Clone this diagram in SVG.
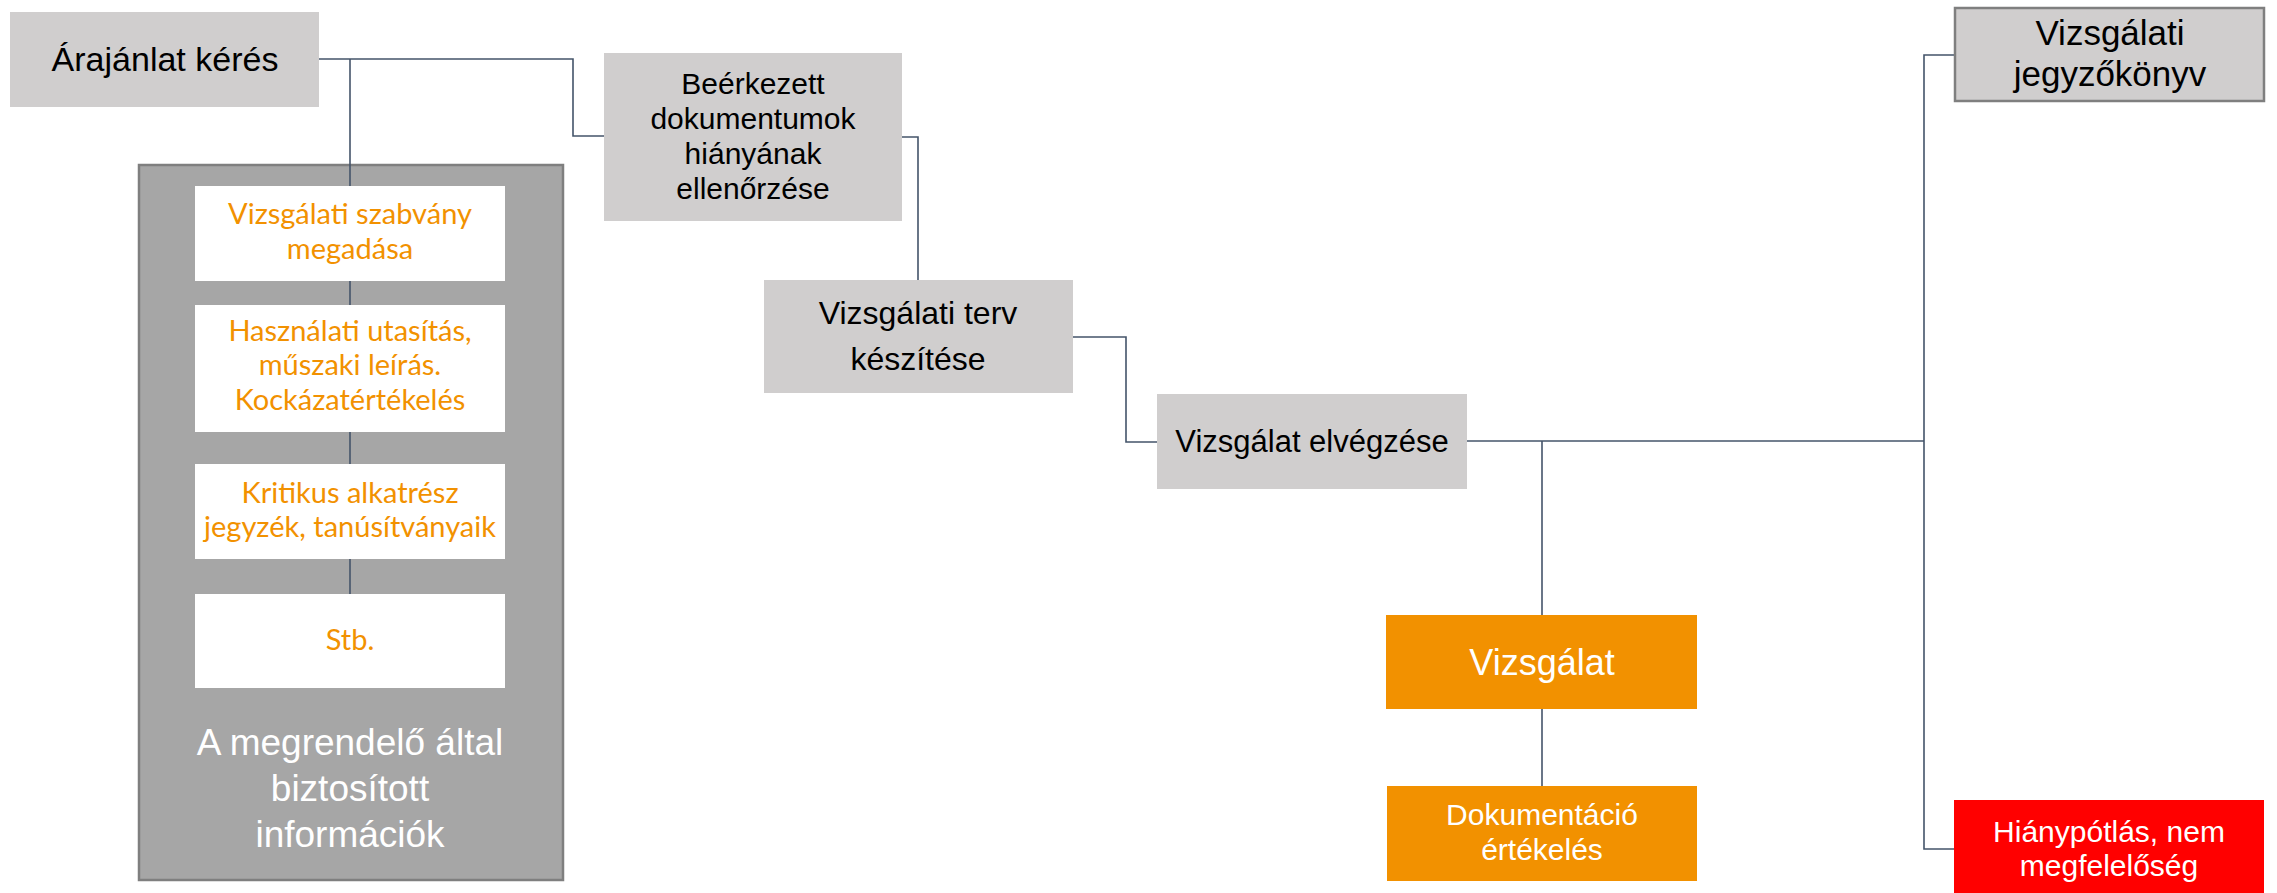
<svg xmlns="http://www.w3.org/2000/svg" width="2277" height="893" viewBox="0 0 2277 893">
<style>
.gbox{fill:#d0cece}
.wbox{fill:#ffffff}
.obox{fill:#f29100}
.conn{fill:none;stroke:#44546a;stroke-width:1.6}
.blk{font-family:"Liberation Sans",Arial,sans-serif;fill:#000;text-anchor:middle}
.wht{font-family:"Liberation Sans",Arial,sans-serif;fill:#fff;text-anchor:middle}
.org{font-family:Lato,"Open Sans",sans-serif;fill:#f29100;text-anchor:middle;font-size:29px}
</style>
<rect width="2277" height="893" fill="#fff"/>
<g id="container">
<rect x="139" y="165" width="424" height="715" fill="#a6a6a6" stroke="#7f7f7f" stroke-width="2.5"/>
<text class="wht" font-size="37"><tspan x="350" y="755">A megrendelő által</tspan><tspan x="350" y="801">biztosított</tspan><tspan x="350" y="847">információk</tspan></text>
</g>
<g id="connectors">
<path class="conn" d="M319 59 H573 V136 H604"/>
<path class="conn" d="M350 59 V594"/>
<path class="conn" d="M902 137 H918 V280"/>
<path class="conn" d="M1073 337 H1126 V442 H1157"/>
<path class="conn" d="M1467 441 H1924"/>
<path class="conn" d="M1954 55 H1924 V849 H1954"/>
<path class="conn" d="M1542 441 V615"/>
<path class="conn" d="M1542 709 V786"/>
</g>
<g id="arajanlat">
<rect class="gbox" x="10" y="12" width="309" height="95"/>
<text class="blk" x="165" y="71" font-size="34">Árajánlat kérés</text>
</g>
<g id="info1">
<rect class="wbox" x="195" y="186" width="310" height="95"/>
<text class="org"><tspan x="350" y="224">Vizsgálati szabvány</tspan><tspan x="350" y="259">megadása</tspan></text>
</g>
<g id="info2">
<rect class="wbox" x="195" y="305" width="310" height="127"/>
<text class="org"><tspan x="350" y="341">Használati utasítás,</tspan><tspan x="350" y="375">műszaki leírás.</tspan><tspan x="350" y="410">Kockázatértékelés</tspan></text>
</g>
<g id="info3">
<rect class="wbox" x="195" y="464" width="310" height="95"/>
<text class="org"><tspan x="350" y="503">Kritikus alkatrész</tspan><tspan x="350" y="537">jegyzék, tanúsítványaik</tspan></text>
</g>
<g id="info4">
<rect class="wbox" x="195" y="594" width="310" height="94"/>
<text class="org" x="350" y="650">Stb.</text>
</g>
<g id="beerkezett">
<rect class="gbox" x="604" y="53" width="298" height="168"/>
<text class="blk" font-size="30"><tspan x="753" y="94">Beérkezett</tspan><tspan x="753" y="129">dokumentumok</tspan><tspan x="753" y="164">hiányának</tspan><tspan x="753" y="199">ellenőrzése</tspan></text>
</g>
<g id="terv">
<rect class="gbox" x="764" y="280" width="309" height="113"/>
<text class="blk" font-size="32"><tspan x="918" y="324">Vizsgálati terv</tspan><tspan x="918" y="370">készítése</tspan></text>
</g>
<g id="elvegzes">
<rect class="gbox" x="1157" y="394" width="310" height="95"/>
<text class="blk" x="1312" y="452" font-size="31">Vizsgálat elvégzése</text>
</g>
<g id="vizsgalat">
<rect class="obox" x="1386" y="615" width="311" height="94"/>
<text class="wht" x="1542" y="675" font-size="36">Vizsgálat</text>
</g>
<g id="dokumentacio">
<rect class="obox" x="1387" y="786" width="310" height="95"/>
<text class="wht" font-size="30"><tspan x="1542" y="825">Dokumentáció</tspan><tspan x="1542" y="860">értékelés</tspan></text>
</g>
<g id="jegyzokonyv">
<rect class="gbox" x="1955" y="8" width="309" height="93" stroke="#7f7f7f" stroke-width="2.5"/>
<text class="blk" font-size="35"><tspan x="2110" y="45">Vizsgálati</tspan><tspan x="2110" y="86">jegyzőkönyv</tspan></text>
</g>
<g id="hianypotlas">
<rect x="1954" y="800" width="310" height="93" fill="#ff0000"/>
<text class="wht" font-size="30"><tspan x="2109" y="842">Hiánypótlás, nem</tspan><tspan x="2109" y="876">megfelelőség</tspan></text>
</g>
</svg>
